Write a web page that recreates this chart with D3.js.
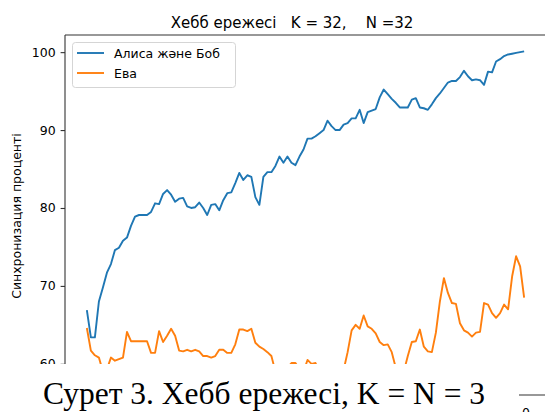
<!DOCTYPE html>
<html>
<head>
<meta charset="utf-8">
<script src="https://cdn.jsdelivr.net/npm/d3@7"></script>
<style>
  html, body { margin: 0; padding: 0; background: #fff; }
  svg { display: block; font-family: "DejaVu Sans", sans-serif; }
  .tick text { font-size: 12.5px; fill: #000; }
</style>
</head>
<body>
<div id="chart"></div>
<script>
// Synchronisation chart: Alice & Bob vs Eve, Hebb rule.

const chartTitle = "Хебб ережесі   K = 32,    N =32";
const yLabel = "Синхронизация проценті";
const caption = "Сурет 3. Хебб ережесі, K = N = 3";
const seriesNames = ["Алиса және Боб", "Ева"];
const seriesColors = ["#1f77b4", "#ff7f0e"];
const yTicks = [60, 70, 80, 90, 100];

// Alice & Bob synchronisation, percent, one reading per sampled step
const aliceBob = [
  66.9, 63.4, 63.4, 68.0, 69.8, 71.7, 72.8, 74.6, 74.9, 75.8,
  76.2, 77.7, 78.9, 79.1, 79.1, 79.1, 79.5, 80.6, 80.5, 81.8,
  82.3, 81.7, 80.8, 81.2, 81.3, 80.2, 80.0, 80.1, 80.7, 80.0,
  79.1, 80.4, 80.5, 79.7, 81.0, 81.9, 82.0, 83.2, 84.5, 83.6,
  84.2, 84.0, 81.4, 80.4, 84.0, 84.6, 84.6, 85.4, 86.6, 85.8,
  86.6, 85.8, 85.5, 86.6, 87.5, 88.9, 88.9, 89.2, 89.6, 90.0,
  91.2, 90.5, 90.0, 90.0, 90.7, 90.9, 91.5, 91.5, 92.6, 90.9,
  92.3, 92.5, 92.7, 94.2, 95.2, 94.6, 94.0, 93.5, 92.9, 92.9,
  92.9, 93.9, 94.1, 92.9, 92.8, 92.6, 93.3, 94.1, 94.7, 95.4,
  96.1, 96.3, 96.3, 96.8, 97.6, 96.9, 96.4, 96.5, 96.4, 95.8,
  97.5, 97.4, 98.8, 99.1, 99.5, 99.7, 99.8, 99.9, 100.0, 100.1
];

// Eve synchronisation, percent
const eve = [
  64.6, 61.7, 61.1, 60.8, 59.0, 59.3, 60.8, 60.4, 60.6, 60.8,
  64.1, 62.9, 62.9, 62.9, 62.9, 62.9, 61.4, 61.4, 64.2, 62.8,
  63.6, 64.5, 63.6, 61.7, 61.6, 61.8, 61.6, 61.8, 61.6, 61.0,
  61.0, 60.8, 61.0, 61.8, 61.8, 61.4, 61.4, 62.5, 64.4, 64.4,
  64.2, 64.5, 62.7, 62.2, 61.9, 61.5, 61.0, 59.0, 58.5, 59.0,
  59.5, 60.1, 60.1, 59.3, 59.0, 60.5, 60.0, 60.1, 59.0, 58.3,
  59.2, 59.0, 58.8, 59.0, 59.2, 61.5, 64.3, 65.0, 64.5, 66.2,
  64.8, 64.5, 63.9, 62.8, 62.4, 62.5, 61.5, 59.5, 58.5, 59.0,
  61.0, 62.8, 62.9, 64.4, 62.2, 61.6, 61.5, 64.0, 68.0, 71.0,
  69.1, 67.8, 67.7, 65.2, 64.3, 64.0, 63.5, 64.0, 64.1, 67.8,
  67.6, 66.5, 65.9, 66.5, 67.6, 67.0, 71.2, 73.8, 72.5, 68.5
];

(function drawChart() {
  "use strict";

  const width = 545;
  const height = 412;
  const plot = { left: 65, top: 35, right: 546, bottom: 395 };

  const steps = d3.range(aliceBob.length);
  const last = steps.length - 1;
  const xPad = last * 0.05;
  const xScale = d3.scaleLinear()
    .domain([-xPad, last + xPad])
    .range([plot.left, plot.right]);
  const yScale = d3.scaleLinear()
    .domain([56.0, 102.2])
    .range([plot.bottom, plot.top]);

  const svg = d3.select("#chart").append("svg")
    .attr("width", width)
    .attr("height", height);

  svg.append("defs").append("clipPath")
    .attr("id", "plot-clip")
    .append("rect")
    .attr("x", plot.left)
    .attr("y", plot.top)
    .attr("width", plot.right - plot.left)
    .attr("height", plot.bottom - plot.top);

  // lines
  const line = d3.line()
    .x(function (d, i) { return xScale(steps[i]); })
    .y(function (d) { return yScale(d); });

  [aliceBob, eve].forEach(function (values, k) {
    svg.append("path")
      .datum(values)
      .attr("clip-path", "url(#plot-clip)")
      .attr("fill", "none")
      .attr("stroke", seriesColors[k])
      .attr("stroke-width", 1.9)
      .attr("stroke-linejoin", "round")
      .attr("d", line);
  });

  // spines
  const spine = svg.append("g")
    .attr("stroke", "#333")
    .attr("stroke-width", 1.1);
  spine.append("line")
    .attr("x1", plot.left).attr("x2", plot.left)
    .attr("y1", plot.top).attr("y2", plot.bottom);
  spine.append("line")
    .attr("x1", plot.left).attr("x2", plot.right)
    .attr("y1", plot.top).attr("y2", plot.top);
  spine.append("line")
    .attr("x1", plot.left).attr("x2", plot.right)
    .attr("y1", plot.bottom).attr("y2", plot.bottom);

  // y axis
  const yAxis = svg.append("g")
    .attr("transform", "translate(" + plot.left + ",0)")
    .call(d3.axisLeft(yScale).tickValues(yTicks).tickSize(4.4).tickPadding(5));
  yAxis.select(".domain").remove();
  yAxis.selectAll(".tick line").attr("stroke", "#333").attr("stroke-width", 1.1);
  yAxis.selectAll(".tick text").attr("font-family", "DejaVu Sans");

  // title
  svg.append("text")
    .attr("x", 292)
    .attr("y", 27.5)
    .attr("text-anchor", "middle")
    .attr("font-size", 15)
    .style("white-space", "pre")
    .text(chartTitle);

  // y label
  svg.append("text")
    .attr("transform", "translate(20.5," + 216 + ") rotate(-90)")
    .attr("text-anchor", "middle")
    .attr("font-size", 12.5)
    .text(yLabel);

  // legend
  const legend = svg.append("g").attr("transform", "translate(72,42)");
  legend.append("rect")
    .attr("x", 0.5).attr("y", 0.5)
    .attr("width", 163).attr("height", 45)
    .attr("rx", 3)
    .attr("fill", "#fff")
    .attr("fill-opacity", 0.8)
    .attr("stroke", "#d5d5d5");
  seriesNames.forEach(function (name, k) {
    const row = legend.append("g").attr("transform", "translate(0," + (11 + k * 20) + ")");
    row.append("line")
      .attr("x1", 5).attr("x2", 32)
      .attr("y1", 0).attr("y2", 0)
      .attr("stroke", seriesColors[k])
      .attr("stroke-width", 1.9);
    row.append("text")
      .attr("x", 42)
      .attr("y", 4.5)
      .attr("font-size", 12.5)
      .text(name);
  });

  // caption sheet covering the lower part of the figure
  svg.append("rect")
    .attr("x", 0).attr("y", 364)
    .attr("width", 519).attr("height", height - 364)
    .attr("fill", "#fff");
  svg.append("text")
    .attr("x", 43)
    .attr("y", 404)
    .attr("font-family", "'Liberation Serif', 'Times New Roman', serif")
    .attr("font-size", 31.5)
    .text(caption);

  // cut-off tick label under the frame
  svg.append("text")
    .attr("x", 522)
    .attr("y", 416.5)
    .attr("font-size", 12.5)
    .text("0");
})();
</script>
</body>
</html>
